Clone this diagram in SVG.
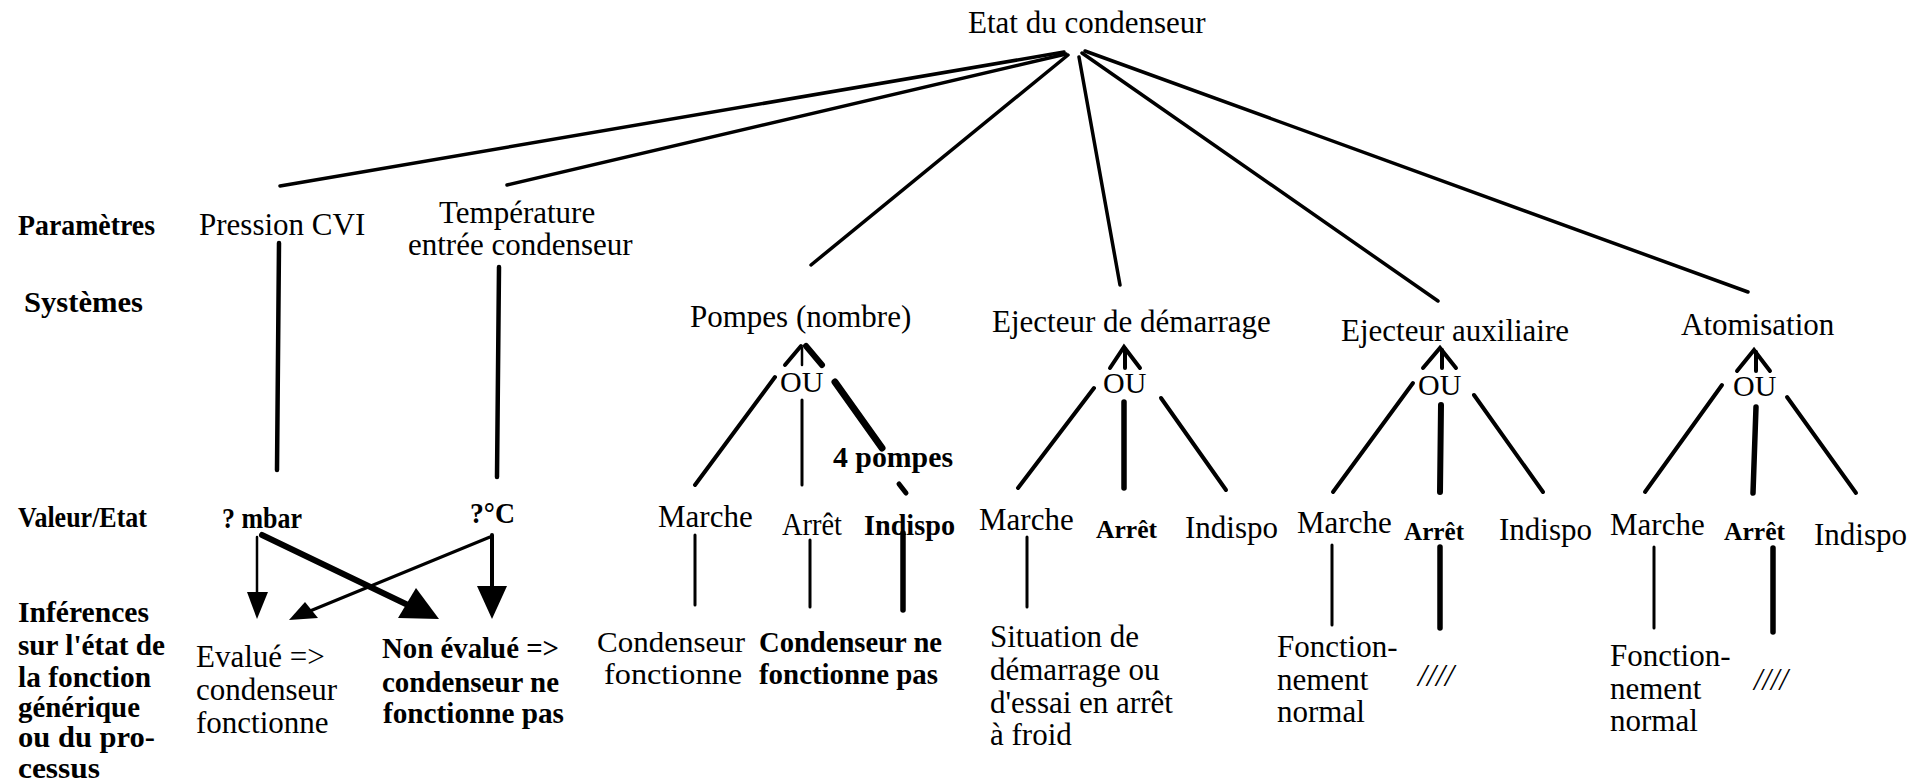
<svg xmlns="http://www.w3.org/2000/svg" width="1913" height="784" viewBox="0 0 1913 784">
<style>
text{font-family:"Liberation Serif","Times New Roman",serif;fill:#000}
.r{font-size:31px}
.r2{font-size:30px}
.b{font-size:29px;font-weight:bold}
.ou{font-size:30px}
.sb{font-size:25px;font-weight:bold}
.it{font-size:32px;font-style:italic}
line,polyline{stroke:#000;stroke-linecap:round;fill:none}
.t{stroke-width:3.5}
.m{stroke-width:4}
.n{stroke-width:3}
.k{stroke-width:5.5}
.h{fill:#000;stroke:none}
</style>
<rect width="1913" height="784" fill="#fff"/>
<g id="row-labels">
<text class="b" x="18" y="235" textLength="137" lengthAdjust="spacingAndGlyphs">Paramètres</text>
<text class="b" x="24" y="312" textLength="119" lengthAdjust="spacingAndGlyphs">Systèmes</text>
<text class="b" x="18" y="527" textLength="129" lengthAdjust="spacingAndGlyphs">Valeur/Etat</text>
<text class="b"><tspan x="18" y="622" textLength="131" lengthAdjust="spacingAndGlyphs">Inférences</tspan><tspan x="18" y="655" textLength="147" lengthAdjust="spacingAndGlyphs">sur l'état de</tspan><tspan x="18" y="687" textLength="133" lengthAdjust="spacingAndGlyphs">la fonction</tspan><tspan x="18" y="717" textLength="122" lengthAdjust="spacingAndGlyphs">générique</tspan><tspan x="18" y="747" textLength="137" lengthAdjust="spacingAndGlyphs">ou du pro-</tspan><tspan x="18" y="778" textLength="82" lengthAdjust="spacingAndGlyphs">cessus</tspan></text>
</g>
<g id="root"><text class="r" x="968" y="33">Etat du condenseur</text></g>
<g id="pression"><text class="r" x="199" y="235">Pression CVI</text></g>
<g id="temperature"><text class="r"><tspan x="439" y="223">Température</tspan><tspan x="408" y="255">entrée condenseur</tspan></text></g>
<g id="mbar"><text class="b" x="222" y="528" textLength="80" lengthAdjust="spacingAndGlyphs">? mbar</text></g>
<g id="degC"><text class="b" x="470" y="523" textLength="45" lengthAdjust="spacingAndGlyphs">?°C</text></g>
<g id="evalue"><text class="r"><tspan x="196" y="667">Evalué =&gt;</tspan><tspan x="196" y="700">condenseur</tspan><tspan x="196" y="733">fonctionne</tspan></text></g>
<g id="non-evalue"><text class="b"><tspan x="382" y="658" textLength="177" lengthAdjust="spacingAndGlyphs">Non évalué =&gt;</tspan><tspan x="382" y="692" textLength="177" lengthAdjust="spacingAndGlyphs">condenseur ne</tspan><tspan x="383" y="723" textLength="181" lengthAdjust="spacingAndGlyphs">fonctionne pas</tspan></text></g>

<g id="pompes"><text class="r" x="690" y="327">Pompes (nombre)</text><text class="ou" x="780" y="392">OU</text></g>
<g id="pompes-4"><text class="b" x="833" y="467" textLength="120" lengthAdjust="spacingAndGlyphs">4 pompes</text></g>
<g id="pompes-marche"><text class="r" x="658" y="527">Marche</text></g>
<g id="pompes-arret"><text class="r" x="782" y="535" textLength="60" lengthAdjust="spacingAndGlyphs">Arrêt</text></g>
<g id="pompes-indispo"><text class="b" x="864" y="535" textLength="91" lengthAdjust="spacingAndGlyphs">Indispo</text></g>
<g id="pompes-inf1"><text class="r2"><tspan x="597" y="652" textLength="148" lengthAdjust="spacingAndGlyphs">Condenseur</tspan><tspan x="604" y="684" textLength="138" lengthAdjust="spacingAndGlyphs">fonctionne</tspan></text></g>
<g id="pompes-inf2"><text class="b"><tspan x="759" y="652" textLength="183" lengthAdjust="spacingAndGlyphs">Condenseur ne</tspan><tspan x="759" y="684" textLength="179" lengthAdjust="spacingAndGlyphs">fonctionne pas</tspan></text></g>

<g id="ejdem"><text class="r" x="992" y="332">Ejecteur de démarrage</text><text class="ou" x="1103" y="393">OU</text></g>
<g id="ejdem-marche"><text class="r" x="979" y="530">Marche</text></g>
<g id="ejdem-arret"><text class="sb" x="1096" y="538" textLength="61" lengthAdjust="spacingAndGlyphs">Arrêt</text></g>
<g id="ejdem-indispo"><text class="r" x="1185" y="538">Indispo</text></g>
<g id="ejdem-inf"><text class="r"><tspan x="990" y="647">Situation de</tspan><tspan x="990" y="680">démarrage ou</tspan><tspan x="990" y="713">d'essai en arrêt</tspan><tspan x="990" y="745">à froid</tspan></text></g>

<g id="ejaux"><text class="r" x="1341" y="341">Ejecteur auxiliaire</text><text class="ou" x="1418" y="395">OU</text></g>
<g id="ejaux-marche"><text class="r" x="1297" y="533">Marche</text></g>
<g id="ejaux-arret"><text class="sb" x="1404" y="540" textLength="60" lengthAdjust="spacingAndGlyphs">Arrêt</text></g>
<g id="ejaux-indispo"><text class="r" x="1499" y="540">Indispo</text></g>
<g id="ejaux-inf1"><text class="r"><tspan x="1277" y="657">Fonction-</tspan><tspan x="1277" y="690">nement</tspan><tspan x="1277" y="722">normal</tspan></text></g>
<g id="ejaux-inf2"><text class="it" x="1418" y="686" textLength="36" lengthAdjust="spacingAndGlyphs">////</text></g>

<g id="atom"><text class="r" x="1681" y="335">Atomisation</text><text class="ou" x="1733" y="396">OU</text></g>
<g id="atom-marche"><text class="r" x="1610" y="535">Marche</text></g>
<g id="atom-arret"><text class="sb" x="1724" y="540" textLength="61" lengthAdjust="spacingAndGlyphs">Arrêt</text></g>
<g id="atom-indispo"><text class="r" x="1814" y="545">Indispo</text></g>
<g id="atom-inf1"><text class="r"><tspan x="1610" y="666">Fonction-</tspan><tspan x="1610" y="699">nement</tspan><tspan x="1610" y="731">normal</tspan></text></g>
<g id="atom-inf2"><text class="it" x="1754" y="690" textLength="34" lengthAdjust="spacingAndGlyphs">////</text></g>

<g id="connectors">
<line class="t" x1="1064" y1="52" x2="280" y2="186"/>
<line class="t" x1="1066" y1="54" x2="507" y2="185"/>
<line class="t" x1="1068" y1="55" x2="811" y2="265"/>
<line class="t" x1="1079" y1="57" x2="1120" y2="285"/>
<line class="t" x1="1082" y1="53" x2="1438" y2="301"/>
<line class="t" x1="1085" y1="51" x2="1748" y2="292"/>
<line stroke-width="4.5" x1="279" y1="243" x2="277" y2="470"/>
<line stroke-width="4.5" x1="499" y1="267" x2="497" y2="477"/>
<line stroke-width="2.5" x1="257" y1="537" x2="257" y2="595"/>
<polygon class="h" points="247,592 268,592 257,619"/>
<line stroke-width="6" x1="262" y1="535" x2="410" y2="606"/>
<polygon class="h" points="398,618 416,588 439,619"/>
<line class="m" x1="492" y1="535" x2="492" y2="590"/>
<polygon class="h" points="477,586 507,586 492,619"/>
<line class="n" x1="490" y1="537" x2="310" y2="611"/>
<polygon class="h" points="305,602 318,618 289,620"/>

<line class="m" x1="785" y1="365" x2="801" y2="346"/>
<line stroke-width="2.5" x1="802" y1="348" x2="802" y2="365"/>
<line stroke-width="6" x1="806" y1="346" x2="822" y2="365"/>
<line class="m" x1="775" y1="377" x2="695" y2="485"/>
<line class="n" x1="802" y1="400" x2="802" y2="485"/>
<line stroke-width="7" x1="835" y1="382" x2="882" y2="448"/>
<line stroke-width="5" x1="899" y1="484" x2="906" y2="493"/>
<line class="n" x1="695" y1="535" x2="695" y2="605"/>
<line class="n" x1="810" y1="540" x2="810" y2="607"/>
<line class="k" x1="903" y1="533" x2="903" y2="610"/>

<polyline class="m" points="1110,368 1124,347 1140,368"/>
<line class="m" x1="1125" y1="349" x2="1125" y2="368"/>
<line class="m" x1="1094" y1="388" x2="1018" y2="488"/>
<line class="k" x1="1124" y1="402" x2="1124" y2="488"/>
<line class="m" x1="1161" y1="398" x2="1226" y2="490"/>
<line class="n" x1="1027" y1="537" x2="1027" y2="607"/>

<polyline class="m" points="1423,368 1440,348 1456,368"/>
<line class="m" x1="1442" y1="350" x2="1442" y2="368"/>
<line class="m" x1="1413" y1="383" x2="1333" y2="492"/>
<line stroke-width="6" x1="1441" y1="405" x2="1440" y2="492"/>
<line class="m" x1="1474" y1="395" x2="1543" y2="492"/>
<line class="n" x1="1332" y1="545" x2="1332" y2="625"/>
<line class="k" x1="1440" y1="547" x2="1440" y2="628"/>

<polyline class="m" points="1737,371 1754,350 1770,371"/>
<line class="m" x1="1756" y1="352" x2="1756" y2="371"/>
<line class="m" x1="1722" y1="385" x2="1645" y2="492"/>
<line class="k" x1="1756" y1="407" x2="1753" y2="493"/>
<line class="m" x1="1787" y1="397" x2="1856" y2="493"/>
<line class="n" x1="1654" y1="547" x2="1654" y2="628"/>
<line class="k" x1="1773" y1="548" x2="1773" y2="632"/>
</g>
</svg>
